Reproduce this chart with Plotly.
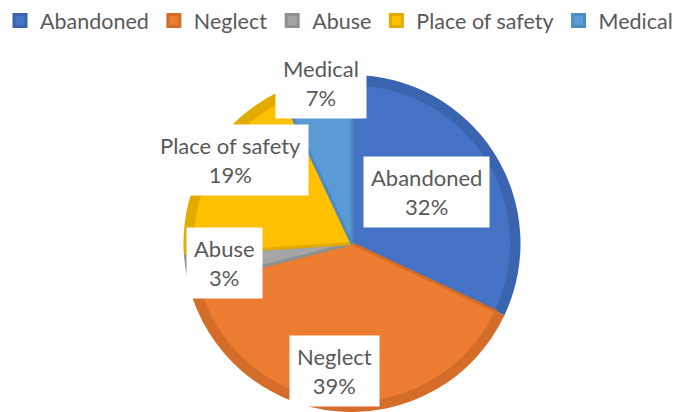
import math
import plotly.graph_objects as go

# ---- data ----
categories = ["Abandoned", "Neglect", "Abuse", "Place of safety", "Medical"]
values = [32, 39, 3, 19, 7]

# ---- style ----
colors = ["#4472C4", "#ED7D31", "#A5A5A5", "#FFC000", "#5B9BD5"]
dark_colors = ["#3B64B0", "#D56D2A", "#909090", "#E3AA00", "#4E8AC4"]
label_radius = [0.536, 0.767, 0.763, 0.875, 0.97]   # fraction of pie radius
label_angle_nudge = [-2.0, 2.6, 0.3, 3.9, 1.8]       # degrees, clockwise
text_color = "#595959"
font_family = "Lato, Carlito, 'Open Sans', sans-serif"

W, H = 685, 412
cx, R = 352, 168.5
bevel = 9
cy_top = H - R

outer_dom = dict(x=[(cx - R) / W, (cx + R) / W], y=[0, 2 * R / H])
inner_dom = dict(x=[(cx - R + bevel) / W, (cx + R - bevel) / W],
                 y=[bevel / H, (2 * R - bevel) / H])

fig = go.Figure()
fig.add_trace(go.Pie(
    labels=categories, values=values, sort=False, direction="clockwise", rotation=0,
    marker=dict(colors=dark_colors, line=dict(width=0)),
    textinfo="none", hoverinfo="skip", showlegend=False, domain=outer_dom,
))
fig.add_trace(go.Pie(
    labels=categories, values=values, sort=False, direction="clockwise", rotation=0,
    marker=dict(colors=colors, line=dict(color=dark_colors, width=3)),
    textinfo="none", showlegend=True, domain=inner_dom,
))

total = sum(values)
annotations = []
cum = 0
for cat, v, f, nudge in zip(categories, values, label_radius, label_angle_nudge):
    mid = (cum + v / 2) / total * 360 + nudge
    cum += v
    px = cx + f * R * math.sin(math.radians(mid))
    py = cy_top - f * R * math.cos(math.radians(mid))
    pct = round(v / total * 100)
    annotations.append(dict(
        x=px / W, y=1 - py / H, xref="paper", yref="paper",
        text=f"{cat}<br>{pct}%", showarrow=False,
        bgcolor="white", borderpad=7,
        font=dict(size=22, color=text_color, family=font_family),
        xanchor="center", yanchor="middle",
    ))

fig.update_layout(
    width=W, height=H,
    margin=dict(l=0, r=0, t=0, b=0, autoexpand=False),
    paper_bgcolor="white", plot_bgcolor="white",
    annotations=annotations,
    legend=dict(orientation="h", x=0, xanchor="left", y=1.0, yanchor="top",
                font=dict(size=21.5, color=text_color, family=font_family),
                traceorder="normal"),
)

fig.write_html("out.html", config={"displayModeBar": False},
               post_script="document.body.style.margin='0';")
